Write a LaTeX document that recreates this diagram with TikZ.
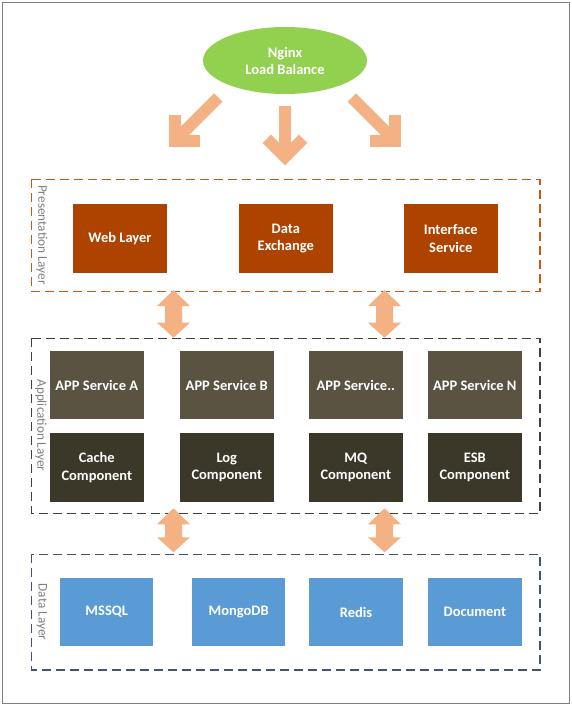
\documentclass[tikz,border=0pt]{standalone}
\usepackage{fontspec}
\setmainfont{Carlito}
\usetikzlibrary{shapes.geometric,positioning,calc}
\definecolor{nginxgreen}{HTML}{92D050}
\definecolor{arrowfill}{HTML}{F4B183}
\definecolor{presfill}{HTML}{AE4300}
\definecolor{appfill}{HTML}{5A5342}
\definecolor{compfill}{HTML}{3B3829}
\definecolor{datafill}{HTML}{5B9BD5}
\definecolor{presline}{HTML}{C55A11}
\definecolor{appline}{HTML}{404040}
\definecolor{dataline}{HTML}{44546A}
\definecolor{labelgray}{HTML}{7F7F7F}
\newcommand{\fatarrow}[3]{%
  \draw[arrowfill,line width=12pt] (#1) -- (#2);
  \draw[arrowfill,line width=12pt,line join=miter] (#2) ++({#3+135}:25.7) -- (#2) -- ++({#3-135}:25.7);}
\newcommand{\twoway}[2]{%
  \fill[arrowfill] (#1) -- ++(16.5,16) -- ++(-8,0) -- ($(#2)+(8.5,-15)$) -- ++(8,0) -- (#2)
    -- ++(-16.5,-15) -- ++(8,0) -- ($(#1)+(-8.5,16)$) -- ++(-8,0) -- cycle;}

\begin{document}
\begin{tikzpicture}[x=1pt,y=-1pt,node distance=130pt,on grid,
  box/.style={rectangle,minimum width=93.5pt,minimum height=68.5pt,inner sep=0pt,text=white,align=center,font=\fontsize{14.5}{17.3}\selectfont\bfseries},
  pbox/.style={box,fill=presfill},
  abox/.style={box,fill=appfill},
  cbox/.style={box,fill=compfill},
  dbox/.style={box,fill=datafill},
  layername/.style={rotate=-90,text=labelgray,inner sep=0pt,font=\fontsize{13.2}{15}\selectfont},
  layerframe/.style={line width=1.2pt,dash pattern=on 9pt off 5pt}]
   \useasboundingbox (0,0) rectangle (572,709);
   \draw[labelgray,line width=1pt] (2.2,2.7) rectangle (569.5,703.3);
   \node[ellipse,fill=nginxgreen,minimum width=164pt,minimum height=67pt,inner sep=0pt,text=white,align=center,font=\fontsize{14.5}{17}\selectfont\bfseries] (lb) at (285,60.5) {Nginx\\Load Balance};

   \draw[layerframe,presline] (31.5,179.3) rectangle (540,291.7);
   \draw[layerframe,appline] (31.5,338.3) rectangle (540,513.3);
   \draw[layerframe,dataline] (31.5,554.3) rectangle (540,670);
   \node[layername] (presname) at (41.8,235) {Presentation Layer};
   \node[layername] (appname) at (41,425.5) {Application Layer};
   \node[layername] (dataname) at (41.8,612) {Data Layer};

   \node[pbox] (web) at (120,238.4) {Web Layer};
   \node[pbox] (dex) [right=165.8pt of web] {Data\\Exchange};
   \node[pbox] (isvc) [right=165pt of dex] {Interface\\Service};

   \node[abox] (appA) at (96.8,385.2) {APP Service A};
   \node[abox] (appB) [right=130pt of appA] {APP Service B};
   \node[abox] (appC) [right=129pt of appB] {APP Service..};
   \node[abox] (appN) [right=119pt of appC] {APP Service N};
   \node[cbox] (cache) [below=82.3pt of appA] {Cache\\Component};
   \node[cbox] (log) [below=82.3pt of appB] {Log\\Component};
   \node[cbox] (mq) [below=82.3pt of appC] {MQ\\Component};
   \node[cbox] (esb) [below=82.3pt of appN] {ESB\\Component};

   \node[dbox] (mssql) at (106.7,612) {MSSQL};
   \node[dbox] (mongo) [right=132pt of mssql] {MongoDB};
   \node[dbox] (redis) [right=117.3pt of mongo] {Redis};
   \node[dbox] (doc) [right=118.9pt of redis] {Document};

   \coordinate (s1) at (218.25,97.5);  \coordinate (v1) at (174.75,141);
   \coordinate (s2) at (285,106);      \coordinate (v2) at (285,157);
   \coordinate (s3) at (351.75,97.5);  \coordinate (v3) at (395.25,141);
   \fatarrow{s1}{v1}{135}
   \fatarrow{s2}{v2}{90}
   \fatarrow{s3}{v3}{45}

   \coordinate (t1) at (173.5,290);   \coordinate (b1) at (173.5,337.7);
   \coordinate (t2) at (384.5,290);   \coordinate (b2) at (384.5,337.7);
   \coordinate (t3) at (173.5,508.3); \coordinate (b3) at (173.5,552.3);
   \coordinate (t4) at (384.5,508.3); \coordinate (b4) at (384.5,552.3);
   \twoway{t1}{b1}
   \twoway{t2}{b2}
   \twoway{t3}{b3}
   \twoway{t4}{b4}
\end{tikzpicture}
\end{document}
